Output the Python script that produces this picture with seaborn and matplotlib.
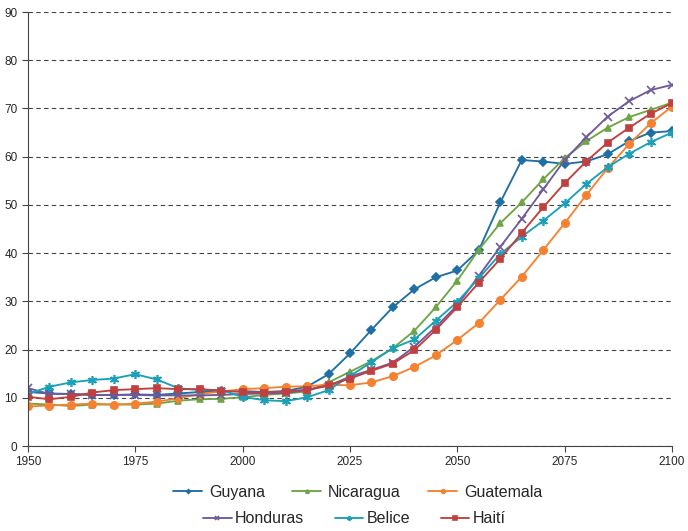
import numpy as np
import pandas as pd
import matplotlib
matplotlib.use("Agg")
import matplotlib.pyplot as plt
import seaborn as sns

sns.set_style("ticks")
plt.rcParams["font.family"] = ["Liberation Sans", "DejaVu Sans"]

# ── data ─────────────────────────────────────────────
years = list(range(1950, 2101, 5))

guyana = [11.2, 10.9, 10.8, 10.6, 10.6, 10.7, 10.6, 10.9, 11.2, 11.3, 11.4,
          11.2, 11.4, 12.3, 14.9, 19.2, 24.1, 28.8, 32.5, 35.0, 36.4, 40.6,
          50.5, 59.3, 59.0, 58.5, 59.0, 60.5, 63.2, 65.0, 65.3]
nicaragua = [8.8, 8.6, 8.3, 8.6, 8.6, 8.6, 8.8, 9.4, 9.7, 9.8, 10.1,
             10.6, 10.9, 11.3, 13.2, 15.4, 17.6, 20.3, 23.9, 28.8, 34.3, 40.7,
             46.2, 50.5, 55.3, 59.7, 63.2, 66.0, 68.2, 69.7, 71.2]
guatemala = [8.2, 8.4, 8.6, 8.8, 8.6, 8.8, 9.2, 9.9, 10.8, 11.3, 11.8,
             12.0, 12.3, 12.4, 12.7, 12.6, 13.2, 14.5, 16.4, 18.8, 22.0, 25.5,
             30.3, 35.1, 40.6, 46.2, 52.0, 57.6, 62.6, 66.9, 70.4]
honduras = [12.0, 10.8, 10.8, 10.6, 10.6, 10.6, 10.5, 10.5, 10.5, 10.6, 10.8,
            10.9, 11.0, 11.6, 12.5, 14.4, 15.8, 17.3, 20.6, 24.7, 29.2, 35.3,
            41.3, 47.1, 53.2, 59.3, 64.0, 68.3, 71.5, 73.8, 74.9]
belice = [10.8, 12.3, 13.2, 13.7, 14.0, 14.9, 13.8, 12.0, 11.6, 11.6, 10.2,
          9.5, 9.3, 10.1, 11.6, 14.5, 17.4, 20.3, 22.1, 26.0, 29.9, 34.8,
          39.8, 43.4, 46.7, 50.3, 54.3, 57.8, 60.6, 63.0, 65.0]
haiti = [10.2, 9.7, 10.2, 11.1, 11.6, 11.8, 12.0, 11.8, 11.8, 11.5, 11.2,
         11.1, 11.3, 11.7, 12.6, 14.0, 15.6, 17.1, 19.9, 24.1, 28.8, 33.9,
         38.8, 44.2, 49.5, 54.5, 59.0, 62.9, 66.0, 68.9, 71.1]

series = {
    "Guyana": guyana,
    "Nicaragua": nicaragua,
    "Guatemala": guatemala,
    "Honduras": honduras,
    "Belice": belice,
    "Haití": haiti,
}

# ── styles ───────────────────────────────────────────
STYLE = {
    "Guyana":    dict(color="#1f6fa5", marker="D", ms=3.8),
    "Nicaragua": dict(color="#6fa545", marker="^", ms=5),
    "Guatemala": dict(color="#f58231", marker="o", ms=5.3),
    "Honduras":  dict(color="#6f5a9c", marker="x", ms=5.5),
    "Belice":    dict(color="#1aa0b8", marker=(6, 2, 0), ms=6.5),
    "Haití":     dict(color="#c0403f", marker="s", ms=5),
}

fig = plt.figure(figsize=(6.88, 5.31), dpi=100)
ax = fig.add_axes([0.0407, 0.160, 0.936, 0.8174])

handles = {}
for name, vals in series.items():
    st = STYLE[name]
    sns.lineplot(x=years, y=vals, ax=ax, color=st["color"], marker=st["marker"],
                 markersize=st["ms"], markeredgecolor=st["color"],
                 markeredgewidth=1.2, linewidth=1.35, label=name, legend=False)
    handles[name] = ax.lines[-1]

ax.set_xlim(1950, 2100)
ax.set_ylim(0, 90)
ax.set_xticks(range(1950, 2101, 25))
ax.set_yticks(range(0, 91, 10))
ax.tick_params(axis="both", labelsize=8.5, length=4, width=0.8, color="#444444")
ax.yaxis.grid(True, linestyle=(0, (4, 3)), color="#444444", linewidth=0.8)
ax.set_axisbelow(True)
sns.despine(ax=ax)
for s in ["left", "bottom"]:
    ax.spines[s].set_color("#444444")
    ax.spines[s].set_linewidth(0.8)

# legend in two rows like the original
row1 = ["Guyana", "Nicaragua", "Guatemala"]
row2 = ["Honduras", "Belice", "Haití"]
fig.legend([handles[n] for n in row1], row1, loc="center",
           bbox_to_anchor=(0.52, 0.073), ncol=3, frameon=False,
           fontsize=11.5, markerscale=0.5, handlelength=1.8,
           columnspacing=1.7, handletextpad=0.45)
fig.legend([handles[n] for n in row2], row2, loc="center",
           bbox_to_anchor=(0.515, 0.023), ncol=3, frameon=False,
           fontsize=11.5, markerscale=0.5, handlelength=1.8,
           columnspacing=1.9, handletextpad=0.2)

fig.savefig("out.png", dpi=100)
plt.close(fig)
